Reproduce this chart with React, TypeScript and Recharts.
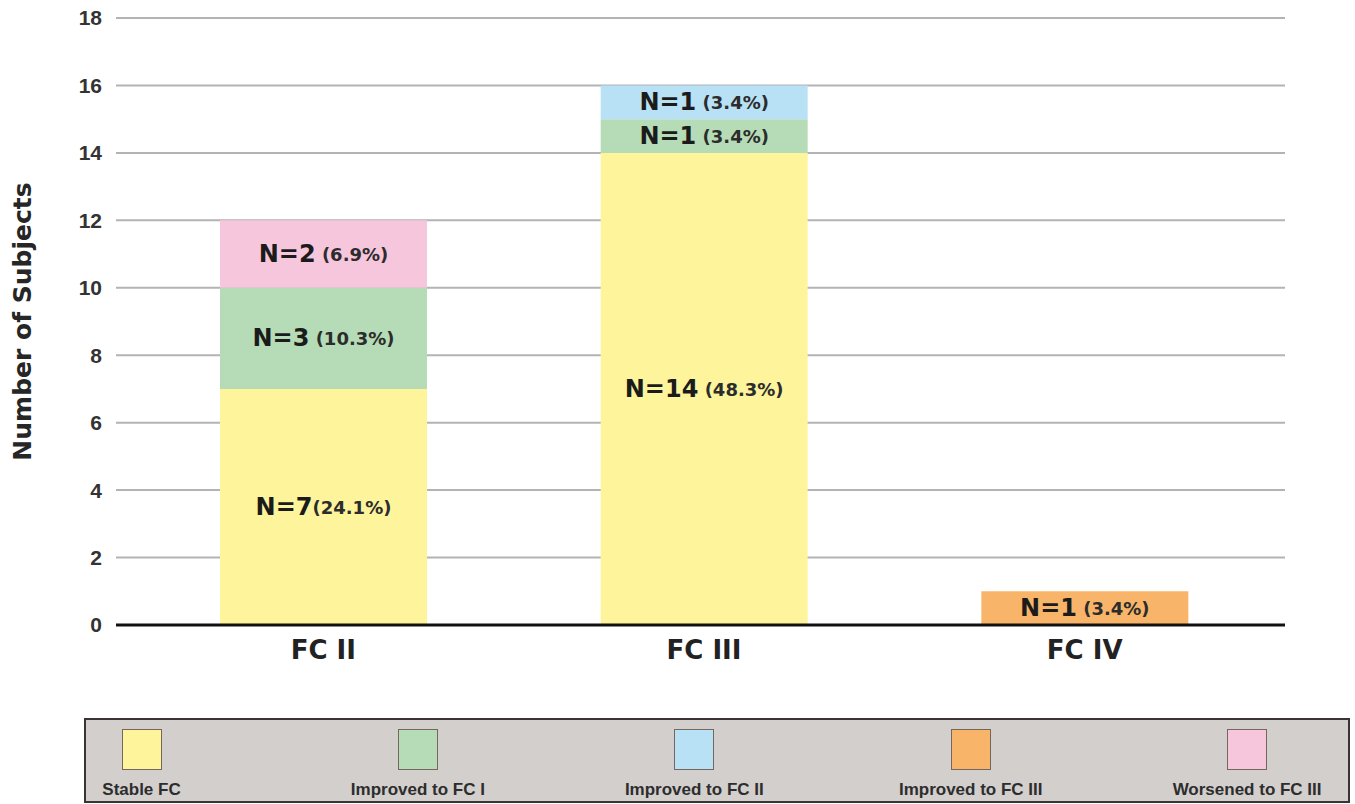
import React from "react";
import {
  BarChart,
  Bar,
  XAxis,
  YAxis,
  CartesianGrid,
  Legend,
  LabelList,
} from "recharts";

const categories = ["FC II", "FC III", "FC IV"];
const stableFC = [7, 14, 0];
const improvedToFC1 = [3, 1, 0];
const improvedToFC2 = [0, 1, 0];
const improvedToFC3 = [0, 0, 1];
const worsenedToFC3 = [2, 0, 0];

const stablePct = ["(24.1%)", " (48.3%)", ""];
const improvedFC1Pct = [" (10.3%)", " (3.4%)", ""];
const improvedFC2Pct = ["", " (3.4%)", ""];
const improvedFC3Pct = ["", "", " (3.4%)"];
const worsenedFC3Pct = [" (6.9%)", "", ""];

const yTicks = [0, 2, 4, 6, 8, 10, 12, 14, 16, 18];

const series = [
  { key: "stable", name: "Stable FC", color: "#fdf49c", values: stableFC, pct: stablePct },
  { key: "imp1", name: "Improved to FC I", color: "#b5dcb6", values: improvedToFC1, pct: improvedFC1Pct },
  { key: "imp2", name: "Improved to FC II", color: "#b8e1f6", values: improvedToFC2, pct: improvedFC2Pct },
  { key: "imp3", name: "Improved to FC III", color: "#f8b56a", values: improvedToFC3, pct: improvedFC3Pct },
  { key: "wor3", name: "Worsened to FC III", color: "#f6c6dc", values: worsenedToFC3, pct: worsenedFC3Pct },
];

const data = categories.map((c, i) => {
  const row: any = { category: c };
  series.forEach((s) => {
    row[s.key] = s.values[i];
    row[s.key + "_label"] = s.values[i] ? `N=${s.values[i]}|${s.pct[i]}` : "";
  });
  return row;
});

const BOLD_FONT = "'DejaVu Sans', sans-serif";

const BarLabel = (props: any) => {
  const { x, y, width, height, value } = props;
  if (!value) return null;
  const [n, pct] = String(value).split("|");
  const cx = Number(x) + Number(width) / 2;
  const cy = Number(y) + Number(height) / 2;
  return (
    <text
      x={cx}
      y={cy}
      textAnchor="middle"
      dominantBaseline="central"
      fontFamily={BOLD_FONT}
      fontWeight="bold"
      fill="#1b1b1b"
      style={{ whiteSpace: "pre" }}
    >
      <tspan fontSize={24}>{n}</tspan>
      <tspan fontSize={18} fill="#2c2c2c">{pct}</tspan>
    </text>
  );
};

const LegendBox = () => {
  return (
    <div
      style={{
        width: 1266,
        height: 85,
        boxSizing: "border-box",
        border: "2px solid #3a3333",
        background: "#d3cfcd",
        position: "relative",
        fontFamily: "'Liberation Sans', Arial, sans-serif",
        fontWeight: "bold",
      }}
    >
      {series.map((s, i) => {
        const center = 57.5 + 276.4 * i - 2;
        return (
          <div
            key={s.key}
            style={{
              position: "absolute",
              left: center - 100,
              top: 0,
              width: 200,
              height: 81,
            }}
          >
            <div
              style={{
                position: "absolute",
                left: 80,
                top: 9,
                width: 40,
                height: 41,
                boxSizing: "border-box",
                border: "1.5px solid #76675e",
                background: s.color,
              }}
            />
            <div
              style={{
                position: "absolute",
                left: 0,
                top: 60,
                width: 200,
                textAlign: "center",
                fontSize: 17,
                lineHeight: "20px",
                color: "#2d2d2d",
                whiteSpace: "nowrap",
              }}
            >
              {s.name}
            </div>
          </div>
        );
      })}
    </div>
  );
};

const YLabel = (props: any) => {
  const vb = props.viewBox || {};
  const cy = (vb.y ?? 18) + (vb.height ?? 607) / 2;
  return (
    <text
      x={31}
      y={cy}
      transform={`rotate(-90, 31, ${cy})`}
      textAnchor="middle"
      fontFamily={BOLD_FONT}
      fontWeight="bold"
      fontSize={25}
      fill="#262626"
    >
      Number of Subjects
    </text>
  );
};

export default function App() {
  return (
    <div style={{ position: "absolute", left: 0, top: 0, background: "#fff" }}>
      <BarChart
        width={1355}
        height={804}
        data={data}
        margin={{ top: 18, right: 70, left: 56, bottom: 64 }}
        barSize={207}
      >
        <CartesianGrid horizontal vertical={false} stroke="#b3b3b3" strokeWidth={2} />
        <XAxis
          dataKey="category"
          height={30}
          padding={{ left: 17, right: 10 }}
          axisLine={{ stroke: "#111", strokeWidth: 3 }}
          tickLine={false}
          tickMargin={10}
          tick={{ fontFamily: BOLD_FONT, fontWeight: "bold", fontSize: 26, fill: "#222" }}
        />
        <YAxis
          width={60}
          domain={[0, 18]}
          ticks={yTicks}
          interval={0}
          axisLine={false}
          tickLine={false}
          tickMargin={8}
          tick={{ fontFamily: "'Liberation Sans', Arial, sans-serif", fontWeight: "bold", fontSize: 21, fill: "#333" }}
          label={<YLabel />}
        />
        <Legend
          verticalAlign="bottom"
          content={<LegendBox />}
          wrapperStyle={{ position: "absolute", left: 84, top: 718, width: 1266, height: 85, margin: 0, padding: 0 }}
        />
        {series.map((s) => (
          <Bar
            key={s.key}
            dataKey={s.key}
            name={s.name}
            stackId="a"
            fill={s.color}
            isAnimationActive={false}
          >
            <LabelList dataKey={s.key + "_label"} content={<BarLabel />} />
          </Bar>
        ))}
      </BarChart>
    </div>
  );
}
